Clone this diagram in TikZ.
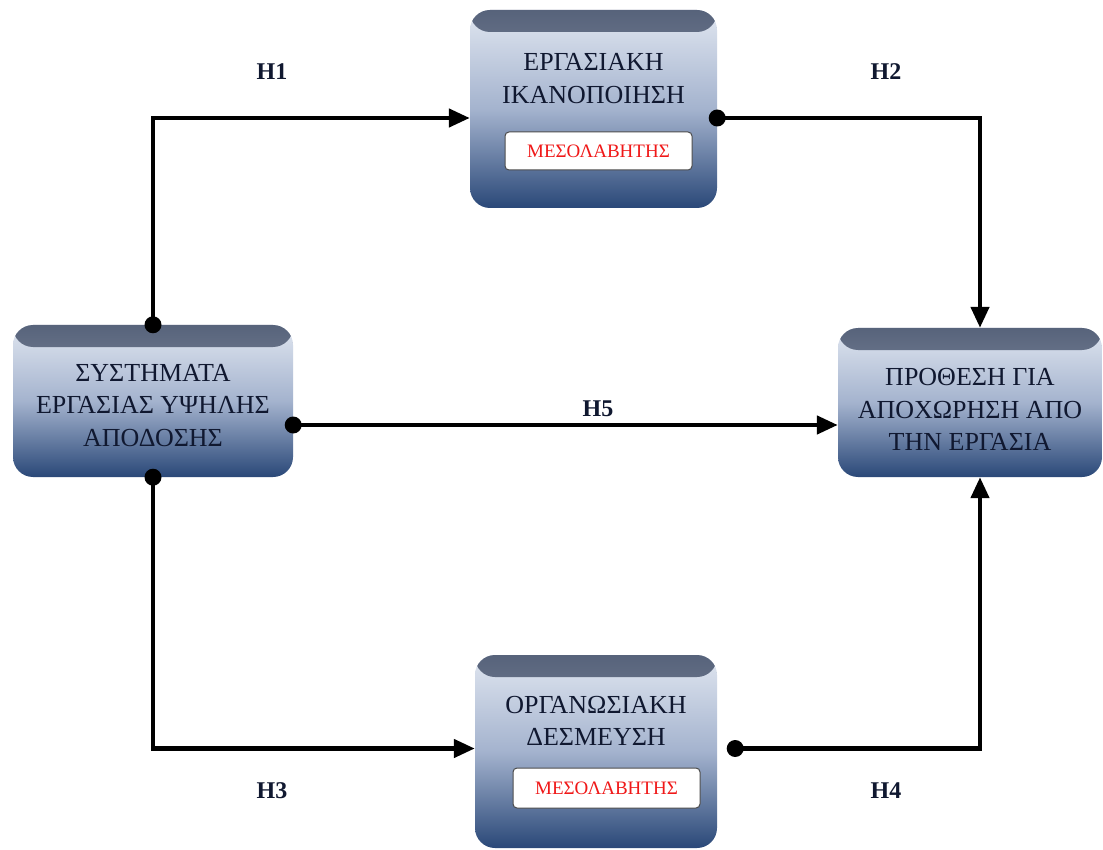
\documentclass[tikz,border=0pt]{standalone}
\usepackage{fontspec}
\setmainfont{Liberation Serif}
\usetikzlibrary{arrows.meta}
\definecolor{bandtop}{HTML}{56627A}
\definecolor{bandbot}{HTML}{A8B0C0}
\definecolor{bodytop}{HTML}{E0E6F0}
\definecolor{bodymid}{HTML}{A4B3CE}
\definecolor{bodybot}{HTML}{2A4878}
\definecolor{lbl}{HTML}{101830}
\definecolor{medred}{HTML}{F01818}
\tikzset{
  box/.style={rectangle, rounded corners=20pt, inner sep=0pt,
    top color=bodytop, bottom color=bodybot, middle color=bodymid,
    path picture={\shade[top color=bandtop,bottom color=bandbot]
      ([yshift=2pt]path picture bounding box.north west) rectangle
      ([yshift=-22pt]path picture bounding box.north east);}},
  boxtext/.style={align=center, text=lbl, inner sep=0pt,
    font=\fontsize{26}{32.5}\selectfont},
  medbox/.style={rectangle, rounded corners=4pt, fill=white, draw=black!70,
    line width=1pt, inner sep=0pt, text=medred,
    font=\fontsize{19}{20}\selectfont},
  hlabel/.style={text=lbl, font=\fontsize{24}{26}\selectfont\bfseries},
  conn/.style={line width=4.5pt, -{Triangle[length=21pt,width=18pt]}},
  dot/.style={fill=black}
}
\begin{document}
\begin{tikzpicture}[x=1pt,y=-1pt]
\useasboundingbox[fill=white] (0,0) rectangle (1103,850);
% boxes
\node[box, minimum width=247pt, minimum height=198pt] (b1) at (593.5,109) {};
\node[boxtext] (t1) at (593.5,78.5) {ΕΡΓΑΣΙΑΚΗ\\ΙΚΑΝΟΠΟΙΗΣΗ};
\node[medbox, minimum width=187pt, minimum height=38pt] (m1) at (598.5,151) {ΜΕΣΟΛΑΒΗΤΗΣ};

\node[box, minimum width=280pt, minimum height=152pt] (b2) at (153,401) {};
\node[boxtext] (t2) at (153,405.5) {ΣΥΣΤΗΜΑΤΑ\\ΕΡΓΑΣΙΑΣ ΥΨΗΛΗΣ\\ΑΠΟΔΟΣΗΣ};

\node[box, minimum width=264pt, minimum height=149pt] (b4) at (970,402.5) {};
\node[boxtext] (t4) at (970,409.5) {ΠΡΟΘΕΣΗ ΓΙΑ\\ΑΠΟΧΩΡΗΣΗ ΑΠΟ\\ΤΗΝ ΕΡΓΑΣΙΑ};

\node[box, minimum width=242pt, minimum height=193pt] (b3) at (596,751.5) {};
\node[boxtext] (t3) at (596,721) {ΟΡΓΑΝΩΣΙΑΚΗ\\ΔΕΣΜΕΥΣΗ};
\node[medbox, minimum width=187pt, minimum height=40pt] (m3) at (606.5,788) {ΜΕΣΟΛΑΒΗΤΗΣ};

% connectors
\draw[conn] (b2.north) |- ([yshift=-9pt]b1.west);
\fill[dot] (b2.north) circle (8.5pt);
\draw[conn] ([yshift=-9pt]b1.east) -| ([xshift=10pt]b4.north);
\fill[dot] ([yshift=-9pt]b1.east) circle (8.5pt);
\draw[conn] ([yshift=-24pt]b2.east) -- ([yshift=-24pt]b2.east -| b4.west);
\fill[dot] ([yshift=-24pt]b2.east) circle (8.5pt);
\draw[conn] (b2.south) |- ([yshift=3pt]b3.west);
\fill[dot] (b2.south) circle (8.5pt);
\draw[conn] ([yshift=3pt,xshift=18pt]b3.east) -| ([xshift=10pt]b4.south);
\fill[dot] ([yshift=3pt,xshift=18pt]b3.east) circle (8.5pt);

% labels
\node[hlabel] (h1) at (272,72) {H1};
\node[hlabel] (h2) at (886,72) {H2};
\node[hlabel] (h5) at (598,409) {H5};
\node[hlabel] (h3) at (272,791) {H3};
\node[hlabel] (h4) at (886,791) {H4};
\end{tikzpicture}
\end{document}
